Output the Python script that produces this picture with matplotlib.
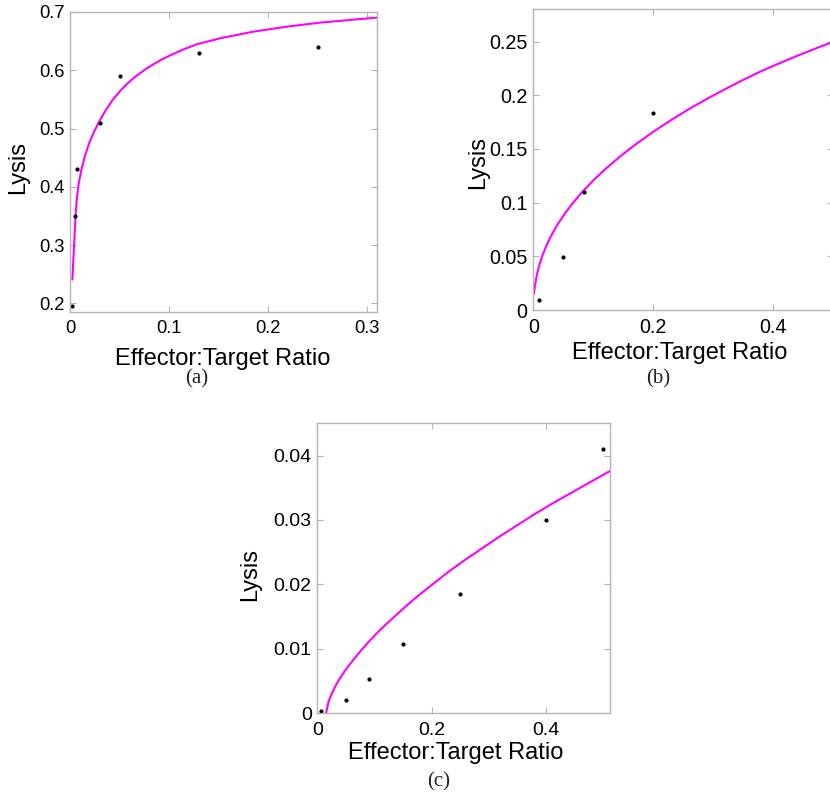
import matplotlib
matplotlib.use("Agg")
import matplotlib.pyplot as plt

# lysis data
a_ratio = [0.0023, 0.0047, 0.0074, 0.03, 0.05, 0.13, 0.25]
a_lysis = [0.195, 0.35, 0.43, 0.51, 0.59, 0.63, 0.64]
a_fit_x = [0.00236, 0.00337, 0.00438, 0.00539, 0.00674, 0.00876, 0.01146, 0.01483,
           0.01921, 0.02427, 0.02932, 0.03607, 0.0428, 0.05123, 0.058, 0.0647,
           0.0758, 0.0843, 0.0927, 0.1011, 0.1146, 0.1281, 0.1517, 0.1853, 0.2191,
           0.2528, 0.2865, 0.3101]
a_fit_y = [0.2409, 0.2741, 0.3084, 0.3427, 0.377, 0.4056, 0.4285, 0.4513,
           0.4742, 0.4942, 0.5114, 0.5314, 0.5485, 0.5657, 0.5772, 0.5873,
           0.6012, 0.6103, 0.6185, 0.6256, 0.6358, 0.6446, 0.6549, 0.6663, 0.6749,
           0.6818, 0.6869, 0.6904]

b_ratio = [0.01, 0.05, 0.085, 0.2]
b_lysis = [0.0093, 0.049, 0.11, 0.183]
b_fit_x = [0.0012, 0.003, 0.006, 0.01, 0.015, 0.022, 0.03, 0.04, 0.052, 0.066,
           0.082, 0.1, 0.12, 0.145, 0.17, 0.2, 0.23, 0.26, 0.29, 0.32, 0.35,
           0.38, 0.41, 0.44, 0.47, 0.5]
b_fit_y = [0.0155, 0.0238, 0.0328, 0.0418, 0.0504, 0.0601, 0.0694, 0.0792, 0.0893,
           0.0997, 0.1102, 0.1207, 0.1312, 0.1431, 0.154, 0.166, 0.177, 0.1873,
           0.1968, 0.2058, 0.2143, 0.2225, 0.2297, 0.2367, 0.2434, 0.2498]

c_ratio = [0.006, 0.05, 0.09, 0.15, 0.25, 0.4, 0.5]
c_lysis = [0.0003, 0.0021, 0.0054, 0.0107, 0.0185, 0.030, 0.041]
c_fit_x = [0.0152, 0.02, 0.025, 0.031, 0.038, 0.046, 0.054, 0.065, 0.077, 0.09,
           0.105, 0.12, 0.14, 0.16, 0.18, 0.2, 0.23, 0.26, 0.29, 0.32, 0.35,
           0.38, 0.41, 0.44, 0.47, 0.5, 0.512]
c_fit_y = [0.0, 0.0019, 0.003, 0.0041, 0.0052, 0.0063, 0.0073, 0.0085, 0.0098, 0.0111,
           0.0125, 0.0138, 0.0154, 0.017, 0.0185, 0.0199, 0.022, 0.0239, 0.0257,
           0.0275, 0.0292, 0.0309, 0.0325, 0.034, 0.0355, 0.037, 0.0376]

a_xticks = [0, 0.1, 0.2, 0.3]
a_xlabels = ["0", "0.1", "0.2", "0.3"]
a_yticks = [0.2, 0.3, 0.4, 0.5, 0.6, 0.7]
a_ylabels = ["0.2", "0.3", "0.4", "0.5", "0.6", "0.7"]
b_xticks = [0, 0.2, 0.4]
b_xlabels = ["0", "0.2", "0.4"]
b_yticks = [0, 0.05, 0.1, 0.15, 0.2, 0.25]
b_ylabels = ["0", "0.05", "0.1", "0.15", "0.2", "0.25"]
c_xticks = [0, 0.2, 0.4]
c_xlabels = ["0", "0.2", "0.4"]
c_yticks = [0, 0.01, 0.02, 0.03, 0.04]
c_ylabels = ["0", "0.01", "0.02", "0.03", "0.04"]

W, H = 830, 796
fig = plt.figure(figsize=(W / 100, H / 100), dpi=100)
sans = ["Liberation Sans", "DejaVu Sans"]
serif = ["Liberation Serif", "DejaVu Serif"]
grey = "#b4b4b4"


def panel(rect_px, x, y, fx, fy, xlim, ylim, xt, xtl, yt, ytl, tsize, ylab_xy, xlab_xy):
    l, t, r, b = rect_px
    ax = fig.add_axes([l / W, 1 - b / H, (r - l) / W, (b - t) / H])
    ax.plot(fx, fy, color="#ff00ff", lw=1.5)
    ax.plot(x, y, "k.", ms=4)
    ax.set_xlim(*xlim)
    ax.set_ylim(*ylim)
    ax.set_xticks(xt)
    ax.set_xticklabels(xtl, family=sans, fontsize=tsize)
    ax.set_yticks(yt)
    ax.set_yticklabels(ytl, family=sans, fontsize=tsize)
    ax.tick_params(direction="in", top=True, right=True, length=4, width=0.8,
                   color=grey, labelcolor="black", pad=4)
    ax.tick_params(axis="x", pad=6)
    for s in ax.spines.values():
        s.set_color(grey)
        s.set_linewidth(1)
    ax.set_ylabel("Lysis", family=sans, fontsize=17)
    ax.yaxis.set_label_coords(*ylab_xy)
    ax.set_xlabel("Effector:Target Ratio", family=sans, fontsize=17)
    ax.xaxis.set_label_coords(*xlab_xy)
    return ax


panel((70, 12, 377, 312), a_ratio, a_lysis, a_fit_x, a_fit_y, (0, 0.31), (0.185, 0.7),
      a_xticks, a_xlabels, a_yticks, a_ylabels, 13.2, (-0.134, 0.48), (0.498, -0.12))
panel((533.3, 9.3, 833.3, 310), b_ratio, b_lysis, b_fit_x, b_fit_y, (0, 0.5), (0, 0.28),
      b_xticks, b_xlabels, b_yticks, b_ylabels, 14.2, (-0.148, 0.489), (0.489, -0.108))
panel((317.3, 423.3, 610, 713.3), c_ratio, c_lysis, c_fit_x, c_fit_y, (0, 0.512), (0, 0.045),
      c_xticks, c_xlabels, c_yticks, c_ylabels, 14.0, (-0.192, 0.477), (0.474, -0.1))

for lab, px, py in [("(a)", 197, 379), ("(b)", 658, 379), ("(c)", 439, 782)]:
    fig.text(px / W, 1 - py / H, lab, family=serif, fontsize=15, color="#222222",
             ha="center", va="center")

fig.savefig("out.png", dpi=100)
